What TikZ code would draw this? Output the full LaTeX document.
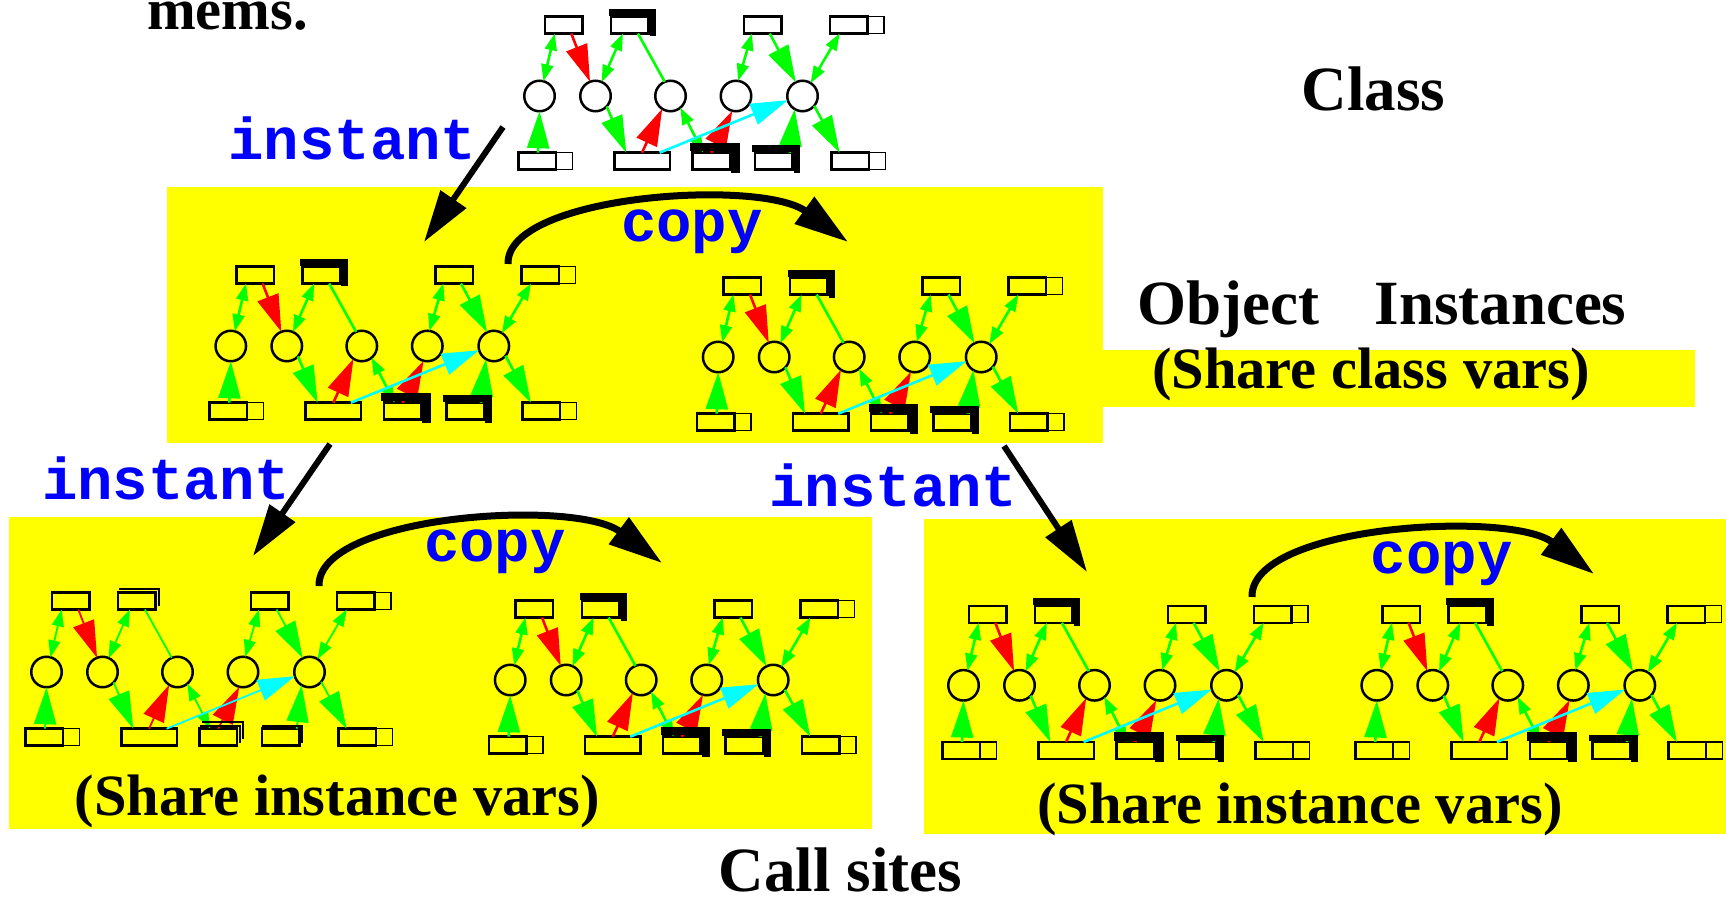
\documentclass[tikz,border=0pt]{standalone}
\usepackage{fontspec}
\setmainfont{Liberation Serif}
\newfontfamily\codefont{Liberation Mono}
\usetikzlibrary{arrows.meta}

\definecolor{panelfill}{RGB}{255,255,0}
\definecolor{flowgreen}{RGB}{0,255,0}
\definecolor{flowred}{RGB}{255,0,0}
\definecolor{flowcyan}{RGB}{0,255,255}
\definecolor{labelblue}{RGB}{0,0,255}

\tikzset{
  box/.style={draw, line width=2.5pt, minimum width=37.5pt, minimum height=17pt,
    inner sep=0pt, outer sep=0pt},
  widebox/.style={box, minimum width=55.5pt},
  tagbox/.style={draw, line width=1.3pt, minimum width=16.5pt, minimum height=17pt,
    inner sep=0pt, outer sep=0pt, anchor=west},
  place/.style={circle, draw, line width=2.5pt, minimum size=30.5pt, inner sep=0pt, outer sep=0pt},
  twoway/.style={draw=flowgreen, {Triangle[length=17pt,width=12pt]}-{Triangle[length=17pt,width=12pt]}},
  gpush/.style={draw=flowgreen, -{Triangle[length=37pt,width=22pt]}},
  rpush/.style={draw=flowred, -{Triangle[length=37pt,width=22pt]}},
  cpush/.style={draw=flowcyan, -{Triangle[length=37pt,width=22pt]}},
  gtie/.style={draw=flowgreen},
  heavy/.style={line width=6.5pt, line join=miter},
  stack/.style={line width=2pt, line join=miter},
  instarrow/.style={line width=6pt, -{Triangle[length=52pt,width=30pt]}},
  copyarrow/.style={line width=7pt, -{Triangle[length=54pt,width=32pt]}},
  serif/.style={inner sep=0pt, font=\bfseries\fontsize{63}{63}\selectfont},
  serifsm/.style={inner sep=0pt, font=\bfseries\fontsize{58.5}{58.5}\selectfont},
  code/.style={inner sep=0pt, text=labelblue, font=\codefont\bfseries\fontsize{59}{59}\selectfont},
}

% one class/instance graph: variable boxes, method circles and their flows
\newcommand\motifbody[1]{%
  \node[box] (-t1) at (46.7,10) {};
  \node[box] (-t2) at (112.9,10) {};
  \node[box] (-t3) at (245.7,10) {};
  \node[box] (-t4) at (331.7,10) {};
  \node[tagbox] (-t4x) at (-t4.east) {};
  \node[place] (-c1) at (22.5,81) {};
  \node[place] (-c2) at (78.5,81) {};
  \node[place] (-c3) at (153.5,81) {};
  \node[place] (-c4) at (219,81) {};
  \node[place] (-c5) at (285.5,81) {};
  \node[box] (-b1) at (20,146.2) {};
  \node[tagbox] (-b1x) at (-b1.east) {};
  \node[widebox] (-b2) at (125,146.2) {};
  \node[box] (-b3) at (194.2,146.2) {};
  \node[box] (-b4) at (256.7,146.2) {};
  \node[box] (-b5) at (333,146.2) {};
  \node[tagbox] (-b5x) at (-b5.east) {};
  \begin{scope}[line width=#1]
    \draw[twoway] ([xshift=-9pt]-t1.south) -- (-c1.75);
    \draw[rpush] ([xshift=7.6pt]-t1.south) -- (-c2.111);
    \draw[twoway] ([xshift=-7pt]-t2.south) -- (-c2.66);
    \draw[gtie] ([xshift=8pt]-t2.south) -- (-c3.112);
    \draw[twoway] ([xshift=-10.7pt]-t3.south) -- (-c4.82);
    \draw[gpush] ([xshift=7pt]-t3.south) -- (-c5.116);
    \draw[twoway] ([xshift=-9pt]-t4.south) -- (-c5.58);
    \draw[gpush] ([xshift=1pt]-b1.north) -- (-c1.south);
    \draw[gpush] (-c2.-43) -- ([xshift=-15.7pt]-b2.north);
    \draw[rpush] (-b2.north) -- (-c3.-123);
    \draw[twoway] (-c3.-50) -- ([xshift=-8pt]-b3.north);
    \draw[rpush] (-b3.north) -- (-c4.-104);
    \draw[cpush] ([xshift=17.6pt]-b2.north) -- (-c5.196);
    \draw[gpush] ([xshift=16pt]-b4.north) -- (-c5.-121);
    \draw[gpush] (-c5.-40) -- ([xshift=-10.4pt]-b5.north);
  \end{scope}
}

\tikzset{
  motif/.pic={\motifbody{2.6pt}
    \draw[heavy] ([xshift=-2.3pt,yshift=4.1pt]-t2.north west) -- ([xshift=4.5pt,yshift=4.1pt]-t2.north east)
      -- ([xshift=4.5pt,yshift=-3pt]-t2.south east);
    \draw[heavy, line width=8.5pt] ([xshift=-2.5pt,yshift=5.5pt]-b3.north west) -- ([xshift=5.4pt,yshift=5.5pt]-b3.north east)
      -- ([xshift=5.4pt,yshift=-3pt]-b3.south east);
    \draw[heavy] ([xshift=-3.3pt,yshift=4.1pt]-b4.north west) -- ([xshift=4.5pt,yshift=4.1pt]-b4.north east)
      -- ([xshift=4.5pt,yshift=-3pt]-b4.south east);
  },
  motifstacked/.pic={\motifbody{1.8pt}
    \draw[stack] ([xshift=1pt,yshift=3.7pt]-t2.north west) -- ([xshift=3.7pt,yshift=3.7pt]-t2.north east)
      -- ([xshift=3.7pt,yshift=3.7pt]-t2.south east);
    \draw[stack] ([xshift=1pt,yshift=3.2pt]-b3.north west) -- ([xshift=3.2pt,yshift=3.2pt]-b3.north east)
      -- ([xshift=3.2pt,yshift=3.2pt]-b3.south east);
    \draw[stack] ([xshift=3pt,yshift=6.5pt]-b3.north west) -- ([xshift=6.5pt,yshift=6.5pt]-b3.north east)
      -- ([xshift=6.5pt,yshift=6.5pt]-b3.south east);
    \draw[stack] ([xshift=0pt,yshift=3pt]-b4.north west) -- ([xshift=3pt,yshift=3pt]-b4.north east)
      -- ([xshift=3pt,yshift=3pt]-b4.south east);
  },
}

\begin{document}
\begin{tikzpicture}[x=1pt,y=-1pt]
\useasboundingbox (0,0) rectangle (1726,901);

% yellow panels
\fill[panelfill] (167,187) rectangle (1103,443);
\fill[panelfill] (1103,350) rectangle (1695,407);
\fill[panelfill] (9,517) rectangle (872,829);
\fill[panelfill] (924,519) rectangle (1726,834);

% class, object instances and call-site graphs
\pic (cls) at (517,15) {motif};
\pic (obA) at (208.3,265) {motif};
\pic (obB) at (695.7,276) {motif};
\pic (csA) at (24,591) {motifstacked};
\pic (csB) at (487.7,599) {motif};
\pic (csC) at (941,604.3) {motif};
\pic (csD) at (1354.3,604.3) {motif};

% instantiation arrows
\coordinate (inA) at (503,127);  \coordinate (inAe) at (424,242);
\coordinate (inB) at (330,444);  \coordinate (inBe) at (253,556);
\coordinate (inC) at (1004,446); \coordinate (inCe) at (1087,572);
\draw[instarrow] (inA) -- (inAe);
\draw[instarrow] (inB) -- (inBe);
\draw[instarrow] (inC) -- (inCe);

% copy arcs
\coordinate (cpA) at (508,264);   \coordinate (cpAe) at (848,242);
\coordinate (cpB) at (319,586);   \coordinate (cpBe) at (662,563);
\coordinate (cpC) at (1252,597);  \coordinate (cpCe) at (1594,574);
\draw[copyarrow] (cpA) .. controls (506,195) and (760,178) .. (cpAe);
\draw[copyarrow] (cpB) .. controls (317,515) and (575,498) .. (cpBe);
\draw[copyarrow] (cpC) .. controls (1250,525) and (1510,510) .. (cpCe);

% labels
\node[serifsm, anchor=base west] (mems) at (147,30) {mems.};
\node[code, anchor=base] (lblInA) at (352.5,160) {instant};
\node[code, anchor=base] (lblInB) at (166,499) {instant};
\node[code, anchor=base] (lblInC) at (893.5,506) {instant};
\node[code, anchor=base] (lblCpA) at (692,241.5) {copy};
\node[code, anchor=base] (lblCpB) at (495,561.5) {copy};
\node[code, anchor=base] (lblCpC) at (1441.7,573) {copy};
\node[serif, anchor=base] (lblClass) at (1373.5,111) {Class};
\node[serif, anchor=base] (lblObj) at (1228,324) {Object};
\node[serif, anchor=base] (lblInst) at (1500.5,324) {Instances};
\node[serifsm, anchor=base] (lblShareC) at (1371,388) {(Share class vars)};
\node[serifsm, anchor=base] (lblShareIA) at (337.5,815) {(Share instance vars)};
\node[serifsm, anchor=base] (lblShareIB) at (1300,823) {(Share instance vars)};
\node[serif, anchor=base] (lblCall) at (840.5,891) {Call sites};
\end{tikzpicture}
\end{document}
